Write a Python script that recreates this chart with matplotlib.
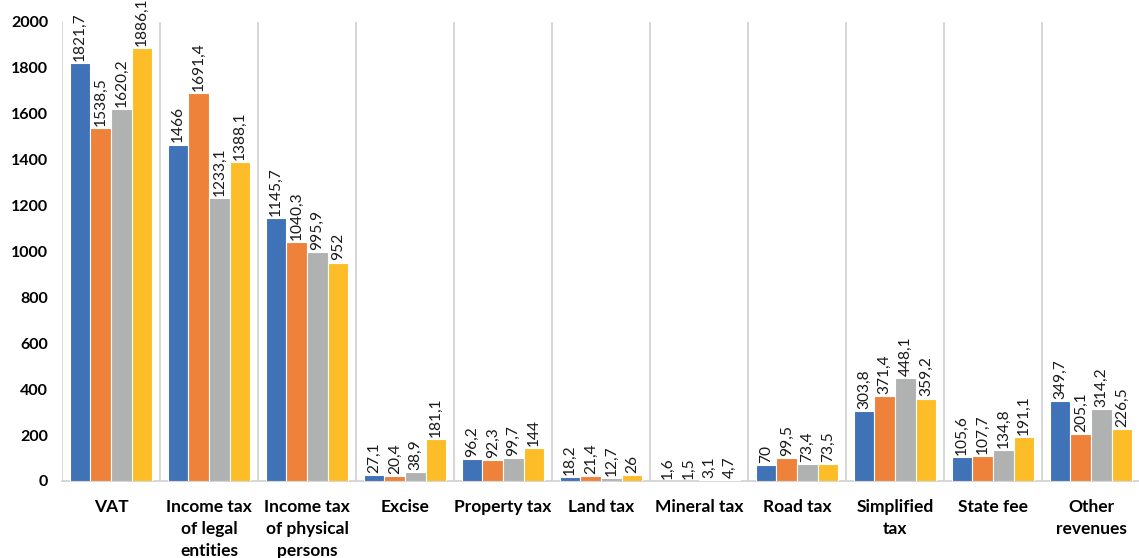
import numpy as np
import matplotlib.pyplot as plt

categories = ["VAT", "Income tax\nof legal\nentities", "Income tax\nof physical\npersons",
              "Excise", "Property tax", "Land tax", "Mineral tax", "Road tax",
              "Simplified\ntax", "State fee", "Other\nrevenues"]

s1 = [1821.7, 1466, 1145.7, 27.1, 96.2, 18.2, 1.6, 70, 303.8, 105.6, 349.7]
s2 = [1538.5, 1691.4, 1040.3, 20.4, 92.3, 21.4, 1.5, 99.5, 371.4, 107.7, 205.1]
s3 = [1620.2, 1233.1, 995.9, 38.9, 99.7, 12.7, 3.1, 73.4, 448.1, 134.8, 314.2]
s4 = [1886.1, 1388.1, 952, 181.1, 144, 26, 4.7, 73.5, 359.2, 191.1, 226.5]

colors = ['#4072b8', '#ee823b', '#b0b2b2', '#fdbd28']

plt.rcParams['font.family'] = ['Lato', 'DejaVu Sans']

fig = plt.figure(figsize=(11.39, 5.58), dpi=100)
ax = fig.add_axes([0.0544, 0.138, 0.9465, 0.8226])

x = np.arange(len(categories))
w = 0.21
for i, (vals, c) in enumerate(zip([s1, s2, s3, s4], colors)):
    pos = x + (i - 1.5) * w
    bars = ax.bar(pos, vals, w, color=c, edgecolor='white', linewidth=0.8, zorder=3)
    for b, v in zip(bars, vals):
        lbl = (f"{v:g}").replace('.', ',')
        ax.annotate(lbl, (b.get_x() + b.get_width() / 2, v), xytext=(0, 1.5),
                    textcoords='offset points', rotation=90, ha='center', va='bottom',
                    fontsize=11.2, color='#1a1a1a', annotation_clip=False)

ax.set_xlim(-0.5, len(categories) - 0.5)
ax.set_ylim(0, 2000)
ax.set_yticks(range(0, 2001, 200))
ax.set_yticklabels([str(t) for t in range(0, 2001, 200)], fontsize=11.5, fontweight='bold')

# separators between groups
for b in np.arange(-0.5, len(categories), 1):
    ax.axvline(b, color='#d0d0d0', linewidth=1.2, zorder=1)

ax.set_xticks(x)
ax.set_xticklabels(categories, fontsize=12.5, fontweight='bold', linespacing=1.45)
ax.tick_params(axis='x', length=0, pad=13)
ax.tick_params(axis='y', length=0, pad=10)

for s in ['top', 'right', 'left']:
    ax.spines[s].set_visible(False)
ax.spines['bottom'].set_color('#d0d0d0')
ax.spines['bottom'].set_linewidth(1.2)

fig.savefig('out.png', dpi=100)
